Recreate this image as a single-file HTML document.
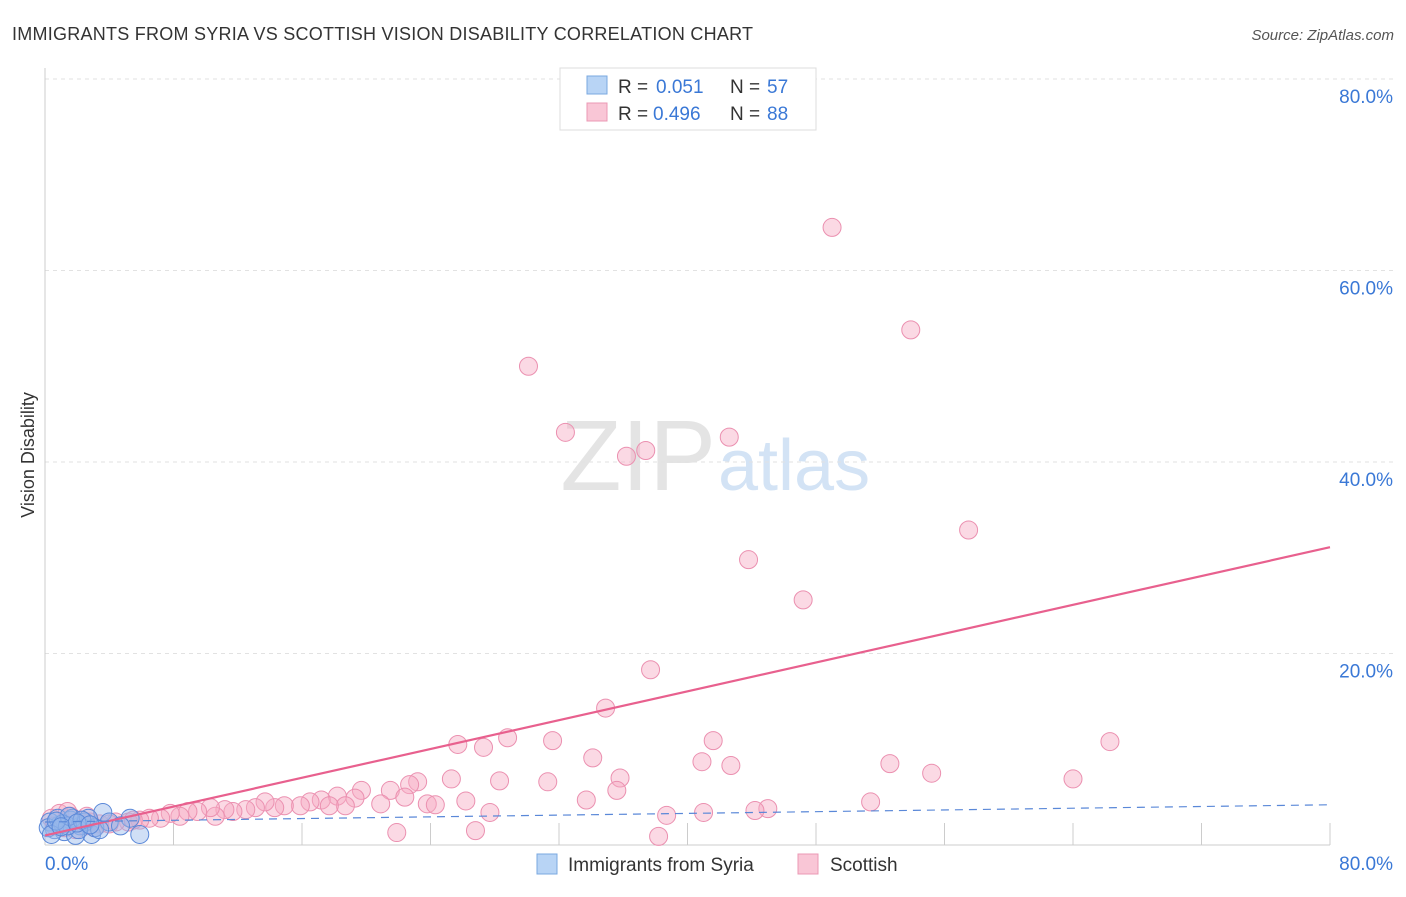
<!DOCTYPE html>
<html><head><meta charset="utf-8"><style>
body{margin:0;background:#fff;font-family:"Liberation Sans",sans-serif}
svg text{font-family:"Liberation Sans",sans-serif}
</style></head><body>
<svg width="1406" height="892" xmlns="http://www.w3.org/2000/svg" id="chart">
<text x="12" y="40" font-size="18" fill="#333" textLength="741" lengthAdjust="spacing">IMMIGRANTS FROM SYRIA VS SCOTTISH VISION DISABILITY CORRELATION CHART</text>
<text x="1394" y="40" font-size="15" fill="#555" text-anchor="end" font-style="italic">Source: ZipAtlas.com</text>
<text x="716" y="490" font-size="100" fill="#e4e4e4" text-anchor="end" font-family="Liberation Serif">ZIP</text>
<text x="718" y="490" font-size="72" fill="#d3e3f5">atlas</text>
<g id="grid"></g>
<g id="axes"></g>
<g id="points"></g>
<g id="lines"></g>
<text x="34" y="455" font-size="18" fill="#333" text-anchor="middle" transform="rotate(-90 34 455)">Vision Disability</text>
<g>
<rect x="560" y="68" width="256" height="62" fill="#fff" stroke="#ddd"/>
<rect x="587" y="76" width="20" height="18" fill="#b8d4f5" stroke="#7aa8e0"/>
<text x="618" y="93" font-size="19" fill="#333">R = </text>
<text x="656" y="93" font-size="19" fill="#3a78d6">0.051</text>
<text x="730" y="93" font-size="19" fill="#333">N = </text>
<text x="767" y="93" font-size="19" fill="#3a78d6">57</text>
<rect x="587" y="103" width="20" height="18" fill="#f9c6d6" stroke="#eb98b4"/>
<text x="618" y="120" font-size="19" fill="#333">R = </text>
<text x="653" y="120" font-size="19" fill="#3a78d6">0.496</text>
<text x="730" y="120" font-size="19" fill="#333">N = </text>
<text x="767" y="120" font-size="19" fill="#3a78d6">88</text>
</g>
<g>
<rect x="537" y="854" width="20" height="20" fill="#b8d4f5" stroke="#7aa8e0"/>
<text x="568" y="871" font-size="19" fill="#333">Immigrants from Syria</text>
<rect x="798" y="854" width="20" height="20" fill="#f9c6d6" stroke="#eb98b4"/>
<text x="830" y="871" font-size="19" fill="#333">Scottish</text>
</g>
</svg>
<script>
const yTicks=[20,40,60,80];
const xTickLabels=["0.0%","80.0%"];
const pinkX=[49.0,53.9,30.1,32.4,37.4,36.2,42.6,57.5,43.8,47.2,37.7,34.9,66.3,28.8,25.7,27.3,31.6,41.6,34.1,40.9,42.7,52.6,55.2,64.0,25.3,28.3,35.8,31.3,23.2,22.7,21.5,19.7,35.6,33.7,26.2,23.8,22.4,24.3,27.7,51.4,45.0,44.2,41.0,38.7,21.9,26.8,38.2,20.9,19.3,18.2,17.2,18.7,17.7,16.5,15.9,14.9,14.3,13.7,13.1,12.5,11.7,11.2,10.6,10.3,9.5,8.9,8.4,7.8,7.2,6.5,5.9,5.2,4.4,3.4,2.8,2.2,1.6,0.9,0.4,0.6,1.2,1.9,2.5,3.1,4.0,5.5,1.4,2.6];
const pinkY=[64.5,53.8,50.0,43.1,41.2,40.6,42.6,32.9,29.8,25.6,18.3,14.3,10.8,11.2,10.5,10.2,10.9,10.9,9.1,8.7,8.3,8.5,7.5,6.9,6.9,6.7,7.0,6.6,6.6,6.3,5.7,5.7,5.7,4.7,4.6,4.3,5.0,4.2,3.4,4.5,3.8,3.6,3.4,3.1,1.3,1.5,0.9,4.3,4.9,5.1,4.7,4.1,4.1,4.5,4.1,4.1,3.9,4.5,3.9,3.7,3.5,3.7,3.0,3.9,3.5,3.5,3.0,3.3,2.8,2.8,2.6,2.4,2.4,2.2,2.4,2.6,3.0,3.3,2.8,2.0,1.8,1.6,2.0,1.8,2.2,2.6,3.5,3.0];
const blueX=[3.6,5.3,5.9,2.9,0.9,0.3,1.6,2.2,1.2,0.6,1.9,2.5,3.1,0.2,0.8,1.7,2.7,4.0,1.1,2.1,1.4,0.4,3.4,4.7,1.5,2.3,0.7,1.0,2.0,2.8];
const blueY=[3.4,2.8,1.1,1.1,2.1,2.4,2.6,2.0,1.4,1.6,1.0,2.4,1.8,1.8,2.8,2.8,2.8,2.4,2.2,1.6,2.0,1.1,1.6,2.0,3.0,2.6,2.5,1.9,2.3,2.1];
const pinkLine=[1.0,31.1];
const blueLine=[2.4,4.2];
const NS="http://www.w3.org/2000/svg";
const X0=45,X1=1330,Y0=845,Y1=79;
function sx(v){return X0+(X1-X0)*v/80;}
function sy(v){return Y0-(Y0-Y1)*v/80;}
function mk(t,a,p){const e=document.createElementNS(NS,t);for(const k in a)e.setAttribute(k,a[k]);document.getElementById(p).appendChild(e);return e;}
yTicks.forEach(v=>{
 const g=mk('line',{x1:X0,x2:1394,y1:sy(v),y2:sy(v),stroke:'#e2e2e2','stroke-dasharray':'4,4'},'grid');
 
 
 const t=mk('text',{x:1393,y:sy(v)+24,'font-size':19,fill:'#3a78d6','text-anchor':'end'},'axes');
 t.textContent=v.toFixed(1)+'%';
 
 
});
const ax=mk('line',{x1:X0,x2:X0,y1:68,y2:Y0,stroke:'#ccc'},'axes');


const bx=mk('line',{x1:X0,x2:X1,y1:Y0,y2:Y0,stroke:'#ccc'},'axes');


for(let i=1;i<=10;i++){
 const tk=mk('line',{x1:sx(i*8),x2:sx(i*8),y1:Y0,y2:Y0-22,stroke:'#ccc'},'axes');
 
 
}
const l0=mk('text',{x:45,y:870,'font-size':19,fill:'#3a78d6'},'axes');l0.textContent=xTickLabels[0];


const l1=mk('text',{x:1393,y:870,'font-size':19,fill:'#3a78d6','text-anchor':'end'},'axes');l1.textContent=xTickLabels[1];


pinkX.forEach((x,i)=>{
 const c=mk('circle',{cx:sx(x),cy:sy(pinkY[i]),r:9,fill:'rgba(246,170,195,0.45)',stroke:'#eb90b0','stroke-width':1},'points');
 
 
});
blueX.forEach((x,i)=>{
 const c=mk('circle',{cx:sx(x),cy:sy(blueY[i]),r:9,fill:'rgba(150,185,235,0.45)',stroke:'#5a88d8','stroke-width':1},'points');
 
 
});
const pl=mk('line',{x1:sx(0),y1:sy(pinkLine[0]),x2:sx(80),y2:sy(pinkLine[1]),stroke:'#e8608e','stroke-width':2.2},'lines');


const bl=mk('line',{x1:sx(0),y1:sy(blueLine[0]),x2:sx(80),y2:sy(blueLine[1]),stroke:'#5a88d8','stroke-width':1.2,'stroke-dasharray':'8,6'},'lines');


</script>
</body></html>
